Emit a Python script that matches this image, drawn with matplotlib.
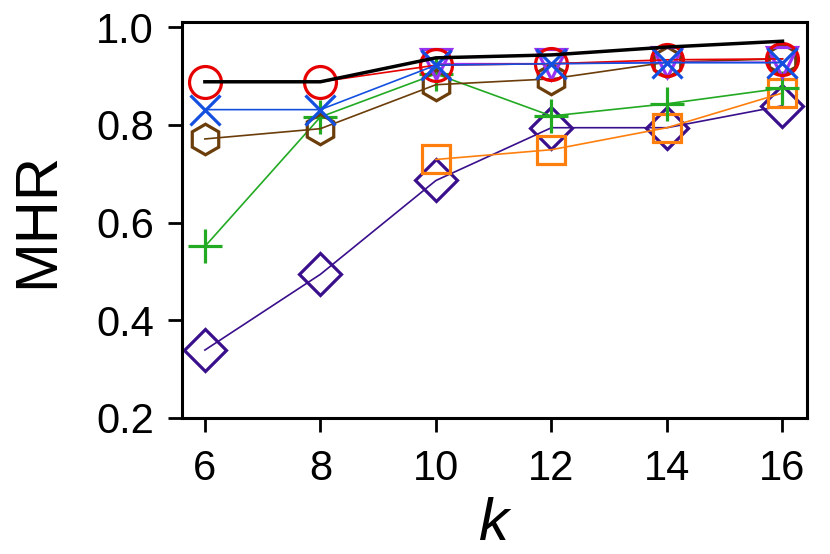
import matplotlib
matplotlib.use('Agg')
import matplotlib.pyplot as plt

plt.rcParams['font.family'] = ['Liberation Sans', 'DejaVu Sans']

# valores de k
k = [6, 8, 10, 12, 14, 16]
k_tail = [10, 12, 14, 16]

# series MHR
diamante = [0.339, 0.494, 0.686, 0.794, 0.794, 0.839]
cuadrado = [0.729, 0.749, 0.794, 0.865]
cruz = [0.551, 0.816, 0.904, 0.818, 0.843, 0.875]
hexagono = [0.771, 0.792, 0.882, 0.894, 0.928, 0.935]
triangulo = [0.925, 0.925, 0.928, 0.928]
circulo = [0.888, 0.888, 0.922, 0.925, 0.933, 0.935]
aspa = [0.831, 0.831, 0.922, 0.925, 0.927, 0.927]
negro = [0.888, 0.888, 0.937, 0.943, 0.959, 0.971]

fig = plt.figure(figsize=(8.3, 5.54), dpi=100)
ax = fig.add_axes([0.219, 0.2455, 0.753, 0.7145])

mk = dict(markerfacecolor='none', markeredgewidth=2.3, linewidth=1.2)
ax.plot(k, diamante, marker='D', markersize=21, color='#3a0f8c', **mk)
ax.plot(k_tail, cuadrado, marker='s', markersize=20, color='#ff7f0e', **mk)
ax.plot(k, cruz, marker='+', markersize=24, color='#22aa22', **mk)
ax.plot(k, hexagono, marker='h', markersize=22, color='#6b3d0a', **mk)
ax.plot(k_tail, triangulo, marker='v', markersize=22, color='#9932f0', **mk)
ax.plot(k, circulo, marker='o', markersize=23, color='#e60000', **mk)
ax.plot(k, aspa, marker='x', markersize=22, color='#1450e0', **mk)
ax.plot(k, negro, color='black', linewidth=2.5)

ax.set_xlim(5.6, 16.42)
ax.set_ylim(0.2, 1.01)
ax.set_xticks(k)
ax.set_yticks([0.2, 0.4, 0.6, 0.8, 1.0])
ax.set_yticklabels(['0.2', '0.4', '0.6', '0.8', '1.0'])
ax.tick_params(labelsize=30, length=10, width=2)
ax.tick_params(axis='y', pad=10)
ax.tick_params(axis='x', pad=12)
for s in ax.spines.values():
    s.set_linewidth(2.2)

ax.set_xlabel('k', fontsize=43, fontstyle='italic', labelpad=6)
ax.set_ylabel('MHR', fontsize=43, labelpad=22)

plt.savefig('out.png')
